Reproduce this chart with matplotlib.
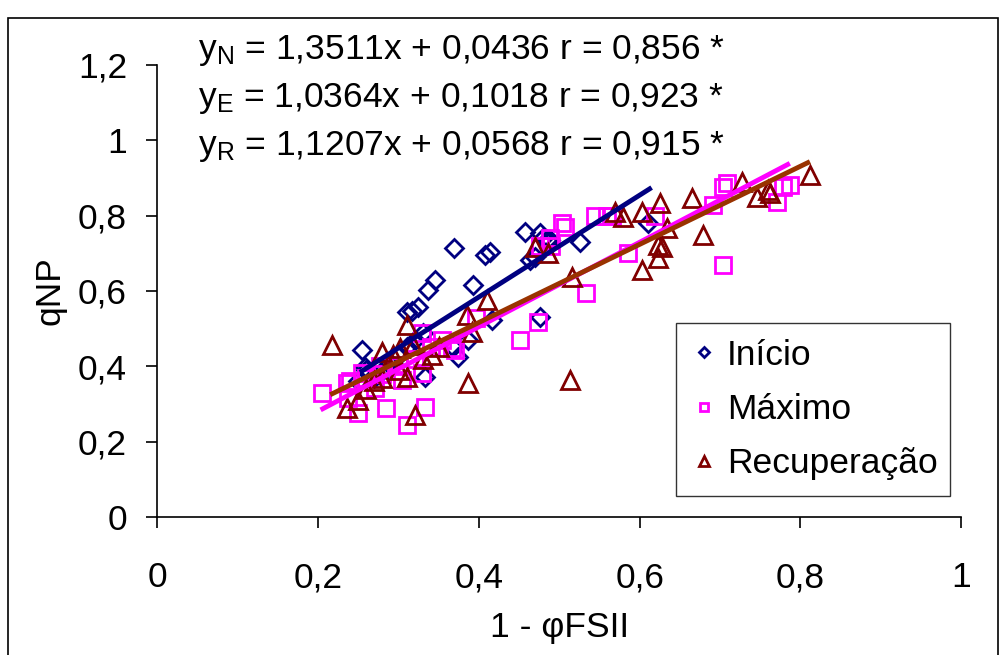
import matplotlib
matplotlib.use("Agg")
import numpy as np
import matplotlib.pyplot as plt
from matplotlib.patches import Rectangle

# ---------------------------
# Data
# ---------------------------

inicio_x = [0.255, 0.369, 0.408, 0.414, 0.345, 0.337, 0.393, 0.311, 0.317, 0.324,
            0.258, 0.277, 0.287, 0.333, 0.331, 0.374, 0.387, 0.368, 0.457, 0.476,
            0.526, 0.464, 0.470, 0.476, 0.416, 0.488, 0.610, 0.480, 0.485, 0.260,
            0.270, 0.290, 0.300, 0.310, 0.320, 0.250]
inicio_y = [0.443, 0.714, 0.695, 0.703, 0.630, 0.603, 0.616, 0.543, 0.548, 0.557,
            0.398, 0.382, 0.390, 0.372, 0.488, 0.425, 0.470, 0.451, 0.756, 0.754,
            0.730, 0.682, 0.690, 0.531, 0.523, 0.735, 0.780, 0.740, 0.735, 0.390,
            0.370, 0.410, 0.430, 0.450, 0.470, 0.360]

maximo_x = [0.205, 0.236, 0.254, 0.237, 0.250, 0.285, 0.310, 0.333, 0.271, 0.304,
            0.329, 0.277, 0.329, 0.354, 0.367, 0.397, 0.370, 0.451, 0.474, 0.533,
            0.488, 0.503, 0.507, 0.476, 0.545, 0.566, 0.585, 0.559, 0.619, 0.704,
            0.709, 0.691, 0.771, 0.779, 0.787, 0.704, 0.240, 0.260, 0.280, 0.300,
            0.320, 0.340, 0.490]
maximo_y = [0.330, 0.356, 0.382, 0.316, 0.276, 0.289, 0.244, 0.292, 0.342, 0.364,
            0.382, 0.400, 0.488, 0.470, 0.449, 0.528, 0.443, 0.470, 0.518, 0.594,
            0.740, 0.780, 0.770, 0.720, 0.800, 0.800, 0.700, 0.800, 0.800, 0.876,
            0.887, 0.828, 0.836, 0.876, 0.881, 0.669, 0.360, 0.370, 0.380, 0.400,
            0.420, 0.450, 0.720]

recup_x = [0.217, 0.236, 0.250, 0.279, 0.302, 0.310, 0.310, 0.320, 0.318, 0.342,
           0.387, 0.385, 0.410, 0.391, 0.293, 0.470, 0.486, 0.516, 0.513, 0.569,
           0.579, 0.603, 0.603, 0.625, 0.634, 0.623, 0.628, 0.623, 0.665, 0.679,
           0.727, 0.746, 0.760, 0.762, 0.812, 0.260, 0.280, 0.300, 0.330, 0.350,
           0.270]
recup_y = [0.457, 0.289, 0.310, 0.438, 0.449, 0.510, 0.372, 0.270, 0.457, 0.430,
           0.356, 0.536, 0.576, 0.490, 0.430, 0.717, 0.700, 0.637, 0.364, 0.810,
           0.797, 0.810, 0.656, 0.833, 0.767, 0.722, 0.717, 0.687, 0.847, 0.749,
           0.889, 0.850, 0.868, 0.860, 0.908, 0.340, 0.370, 0.390, 0.420, 0.450,
           0.360]

# trend lines: slope, intercept, x range
fit_inicio = (1.3511, 0.0436, 0.252, 0.615)
fit_maximo = (1.1207, 0.0568, 0.203, 0.787)
fit_recup = (1.0364, 0.1018, 0.215, 0.812)

eq_lines = [r"y$\mathregular{_N}$ = 1,3511x + 0,0436 r = 0,856 *",
            r"y$\mathregular{_E}$ = 1,0364x + 0,1018 r = 0,923 *",
            r"y$\mathregular{_R}$ = 1,1207x + 0,0568 r = 0,915 *"]

xticks = [0, 0.2, 0.4, 0.6, 0.8, 1]
yticks = [0, 0.2, 0.4, 0.6, 0.8, 1.0, 1.2]

# ---------------------------
# Plot
# ---------------------------

plt.rcParams["font.family"] = ["Liberation Sans", "DejaVu Sans"]
plt.rcParams["mathtext.fontset"] = "custom"
plt.rcParams["mathtext.rm"] = "Liberation Sans"

FS = 25.5

fig = plt.figure(figsize=(10.05, 6.55), dpi=100)
ax = fig.add_axes([0.1567, 0.2107, 0.7995, 0.6901])

navy = "#000080"
mag = "#FF00FF"
dred = "#800000"
brown = "#993300"

ax.plot(inicio_x, inicio_y, linestyle="none", marker="D", markersize=9,
        markerfacecolor="none", markeredgecolor=navy, markeredgewidth=2.0, label="Início")
ax.plot(maximo_x, maximo_y, linestyle="none", marker="s", markersize=11,
        markerfacecolor="none", markeredgecolor=mag, markeredgewidth=2.0, label="Máximo")
ax.plot(recup_x, recup_y, linestyle="none", marker="^", markersize=12.5,
        markerfacecolor="none", markeredgecolor=dred, markeredgewidth=2.0, label="Recuperação")

for (m, b, x0, x1), col in [(fit_inicio, navy), (fit_maximo, mag), (fit_recup, brown)]:
    xs = np.array([x0, x1])
    ax.plot(xs, m * xs + b, color=col, linewidth=3.5, solid_capstyle="butt")

ax.set_xlim(0, 1)
ax.set_ylim(0, 1.2)
ax.set_xticks(xticks)
ax.set_yticks(yticks)
ax.set_xticklabels([f"{t:g}".replace(".", ",") for t in xticks])
ax.set_yticklabels([f"{t:g}".replace(".", ",") for t in yticks])
ax.tick_params(axis="both", labelsize=FS, direction="out", length=8, width=1.2)
ax.tick_params(axis="x", pad=24)
ax.tick_params(axis="y", pad=14)
ax.spines["top"].set_visible(False)
ax.spines["right"].set_visible(False)
ax.spines["left"].set_linewidth(1.2)
ax.spines["bottom"].set_linewidth(1.2)

ax.set_ylabel("qNP", fontsize=FS, labelpad=8)
ax.set_xlabel("1 - φFSII", fontsize=FS, labelpad=12)

for i, line in enumerate(eq_lines):
    fig.text(198 / 1005, 1 - (50 + 48 * i) / 655, line, fontsize=FS, va="center", ha="left")

leg = ax.legend(loc="lower left", bbox_to_anchor=(0.645, 0.046, 0.341, 0.37), mode="expand",
                fontsize=FS, frameon=True, fancybox=False, edgecolor="black",
                markerscale=0.55, handlelength=0.7, handletextpad=0.3,
                borderpad=0.45, labelspacing=0.6, borderaxespad=0)
leg.get_frame().set_linewidth(1.0)

fig.patches.append(Rectangle((8 / 1005, -0.01), 990 / 1005, 1 - 18 / 655 + 0.01,
                             transform=fig.transFigure, fill=False, edgecolor="black",
                             linewidth=1.2))

fig.savefig("out.png", dpi=100)
